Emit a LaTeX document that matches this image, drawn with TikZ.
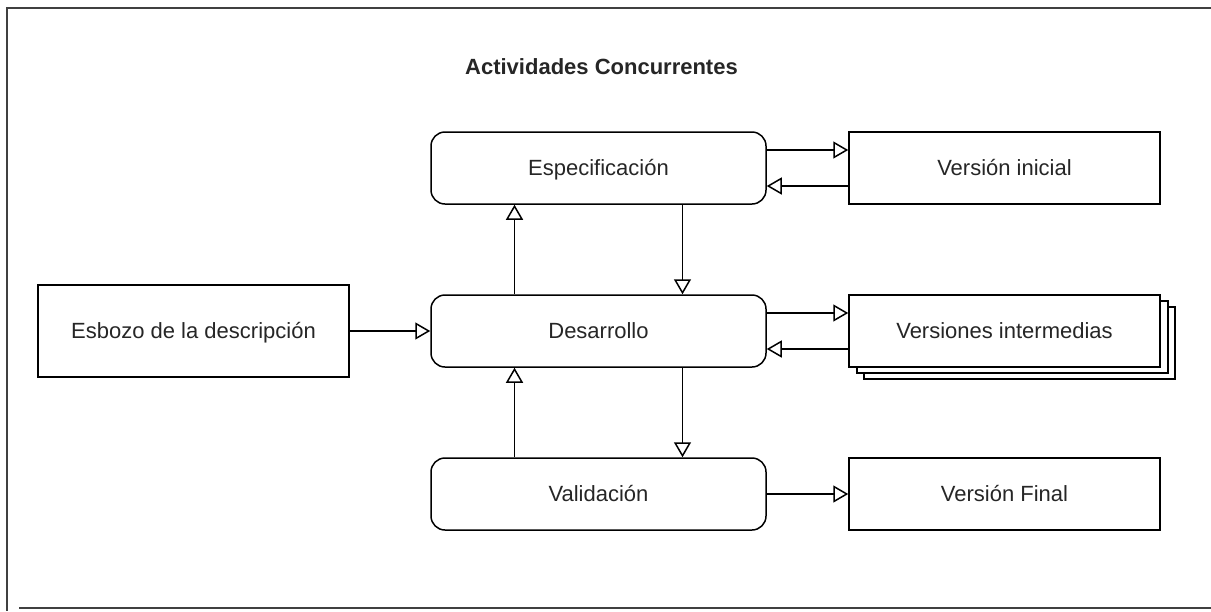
\documentclass[tikz,border=0pt]{standalone}
\usepackage{fontspec}
\setmainfont{Liberation Sans}
\usetikzlibrary{positioning,arrows.meta}

\begin{document}
\begin{tikzpicture}[x=1pt,y=-1pt,line width=1.5pt,->,
	>={Triangle[open,length=15pt,width=17pt]},
	every node/.style={font=\fontsize{22}{26}\selectfont,text height=16pt,text depth=2pt,text=black!85},
	act/.style={draw,rounded corners=14pt,minimum width=335pt,minimum height=72pt,fill=white},
	doc/.style={draw,minimum width=311pt,minimum height=72pt,fill=white}]
	\useasboundingbox (0,0) rectangle (1211,611);
	\draw[-,line width=2pt,black!75] (1211,8) -- (7,8) -- (7,611);
	\draw[-,line width=2pt,black!75] (19,608) -- (1211,608);

	\node[font=\bfseries\fontsize{22}{26}\selectfont]	(titulo)	at	(601.5,67)	{Actividades Concurrentes};

	\node[act]	(esp)	at	(598.5,168)		{Especificación};
	\node[doc]	(vini)	at	(1004.5,168)	{Versión inicial};
	\node[act]	(des)	at	(598.5,331)		{Desarrollo};
	\node[doc]	(vint3)	at	(1019.5,343)	{};
	\node[doc]	(vint2)	at	(1012.5,337)	{};
	\node[doc]	(vint)	at	(1004.5,331)	{Versiones intermedias};
	\node[doc,minimum height=92pt]	(esb)	at	(193.5,331)	{Esbozo de la descripción};
	\node[act]	(val)	at	(598.5,494)		{Validación};
	\node[doc]	(vfin)	at	(1004.5,494)	{Versión Final};

	\path	([yshift=18pt]esp.east)		edge	([yshift=18pt]vini.west);
	\path	([yshift=-18pt]vini.west)	edge	([yshift=-18pt]esp.east);
	\path	([yshift=18pt]des.east)		edge	([yshift=18pt]vint.west);
	\path	([yshift=-18pt]vint.west)	edge	([yshift=-18pt]des.east);
	\path	(esb)	edge	(des);
	\path	(val)	edge	(vfin);
	\path	([xshift=-84pt]des.north)	edge	([xshift=-84pt]esp.south);
	\path	([xshift=84pt]esp.south)	edge	([xshift=84pt]des.north);
	\path	([xshift=-84pt]val.north)	edge	([xshift=-84pt]des.south);
	\path	([xshift=84pt]des.south)	edge	([xshift=84pt]val.north);
\end{tikzpicture}
\end{document}
